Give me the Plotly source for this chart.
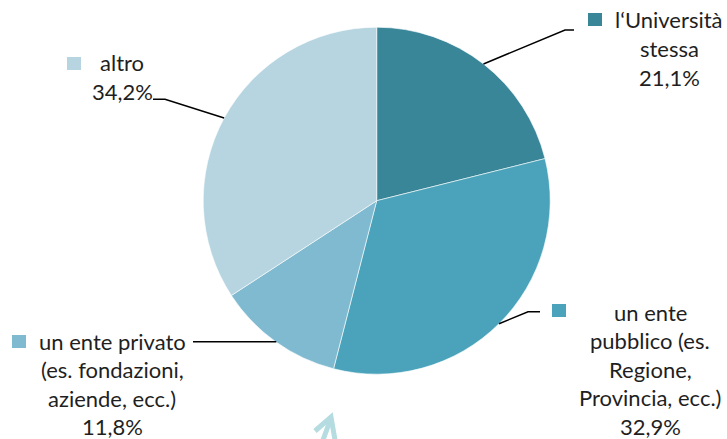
import math
import plotly.graph_objects as go

# ---- data ----
categories = ["l'Università stessa", "un ente pubblico (es. Regione, Provincia, ecc.)",
              "un ente privato (es. fondazioni, aziende, ecc.)", "altro"]
values = [21.1, 32.9, 11.8, 34.2]
colors = ["#3A8699", "#4AA3BA", "#7FBAD0", "#B6D5E0"]
label_lines = [
    ["l\u2018Università", "stessa", "21,1%"],
    ["un ente", "pubblico (es.", "Regione,", "Provincia, ecc.)", "32,9%"],
    ["un ente privato", "(es. fondazioni,", "aziende, ecc.)", "11,8%"],
    ["altro", "34,2%"],
]

W, H = 727, 439
CX, CY, R = 376.7, 200.7, 173.5  # pie centre / radius in pixels

def px(x):
    return x / W

def py(y):
    return 1 - y / H

fig = go.Figure(go.Pie(
    labels=categories, values=values, sort=False, direction="clockwise",
    rotation=0, textinfo="none", hoverinfo="label+percent",
    marker=dict(colors=colors, line=dict(color="white", width=0.6)),
    domain=dict(x=[px(CX - R), px(CX + R)], y=[py(CY + R), py(CY - R)]),
    showlegend=False,
))

# label layout (pixel positions)
block_center_x = [669, 650, 112, 122]
first_line_y = [20, 312, 341, 63]
line_step = 28.6
key_boxes = [(588, 13), (552, 304), (12, 335), (67, 57)]
# leader-line elbows: (elbow point, end point)
leaders = [((565, 30), (574, 30)), ((528, 311.7), (540, 311.7)),
           ((276.3, 341.7), (193, 341.7)), ((165, 99.3), (153, 99.3))]

shapes = []
annotations = []
total = sum(values)
cum = 0
font = dict(family="Lato, 'Open Sans', sans-serif", size=22, color="#1f1f1f")
for i, v in enumerate(values):
    mid = (cum + v / 2) / total * 2 * math.pi
    cum += v
    sx = CX + R * math.sin(mid)
    sy = CY - R * math.cos(mid)
    (ex, ey), (fx, fy) = leaders[i]
    shapes.append(dict(type="path", xref="paper", yref="paper",
                       path=f"M {px(sx)},{py(sy)} L {px(ex)},{py(ey)} L {px(fx)},{py(fy)}",
                       line=dict(color="black", width=1.5)))
    kx, ky = key_boxes[i]
    shapes.append(dict(type="rect", xref="paper", yref="paper",
                       x0=px(kx), x1=px(kx + 14), y0=py(ky + 13), y1=py(ky),
                       fillcolor=colors[i], line=dict(width=0)))
    for j, t in enumerate(label_lines[i]):
        annotations.append(dict(text=t, xref="paper", yref="paper",
                                x=px(block_center_x[i]), y=py(first_line_y[i] + j * line_step),
                                xanchor="center", yanchor="middle", showarrow=False, font=font))

# small arrow artifact at bottom
arrow_col = "#B5DCE0"
shapes.append(dict(type="path", xref="paper", yref="paper",
                   path=f"M {px(315)},{py(431)} L {px(331)},{py(417)} L {px(335)},{py(440)}",
                   line=dict(color=arrow_col, width=5)))
shapes.append(dict(type="path", xref="paper", yref="paper",
                   path=f"M {px(331)},{py(418)} L {px(323)},{py(440)}",
                   line=dict(color=arrow_col, width=5)))

fig.update_layout(width=W, height=H, margin=dict(l=0, r=0, t=0, b=0),
                  paper_bgcolor="white", plot_bgcolor="white",
                  shapes=shapes, annotations=annotations)
fig.write_html("out.html", config={"displayModeBar": False},
               post_script="document.body.style.margin='0';")
